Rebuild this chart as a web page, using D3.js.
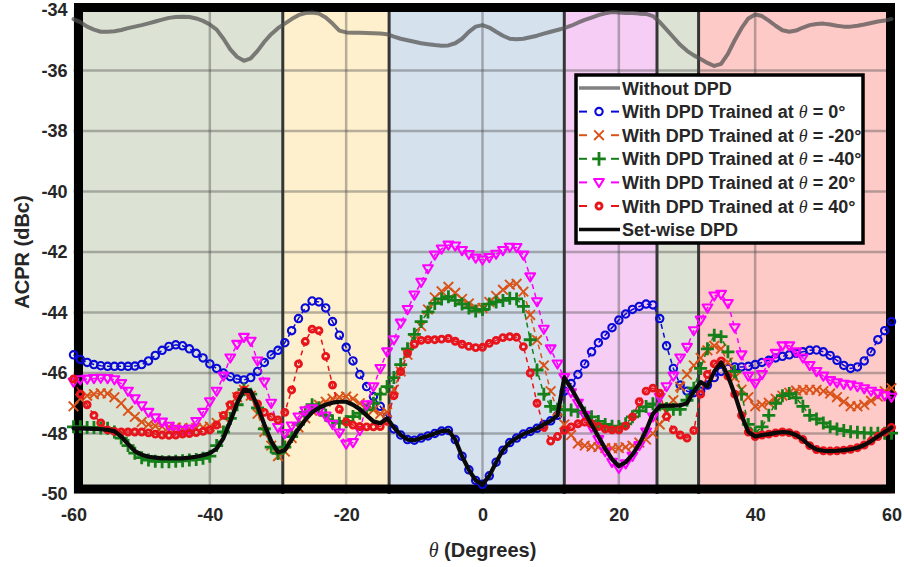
<!DOCTYPE html>
<html><head><meta charset="utf-8">
<script src="https://cdn.jsdelivr.net/npm/d3@7"></script>
<style>
html,body{margin:0;padding:0;background:#fff;}
svg{display:block;}
text{font-family:"Liberation Sans",Arial,Helvetica,sans-serif;font-weight:bold;fill:#262626;}
</style></head>
<body><svg id="chart" width="904" height="567"></svg>
<script>
// ---------- data ----------
const angles = d3.range(-60, 61, 1); // theta (degrees), 1-degree sampling
const xTicks = [-60, -40, -20, 0, 20, 40, 60];
const yTicks = [-50, -48, -46, -44, -42, -40, -38, -36, -34];
const regionEdges = [-60, -29.3, -13.7, 12, 25.6, 31.7, 60];
const regionColors = ["#dde3d4", "#fef0cd", "#d5e1ed", "#f6cdf5", "#dde3d4", "#fdcac7"];

const withoutDPD = [-34.3,-34.4,-34.55,-34.65,-34.72,-34.72,-34.7,-34.66,-34.6,-34.55,
-34.5,-34.44,-34.38,-34.32,-34.26,-34.23,-34.22,-34.23,-34.28,-34.36,
-34.48,-34.65,-34.95,-35.3,-35.55,-35.68,-35.6,-35.35,-35.05,-34.8,
-34.6,-34.45,-34.3,-34.17,-34.1,-34.08,-34.12,-34.25,-34.45,-34.68,
-34.74,-34.75,-34.75,-34.76,-34.77,-34.78,-34.8,-34.88,-34.95,-35.0,
-35.05,-35.1,-35.13,-35.16,-35.18,-35.17,-35.1,-34.95,-34.72,-34.55,
-34.5,
-34.58,-34.72,-34.85,-34.95,-34.97,-34.95,-34.9,-34.85,-34.78,-34.72,
-34.66,-34.6,-34.52,-34.42,-34.33,-34.25,-34.17,-34.11,-34.07,-34.08,
-34.1,-34.1,-34.12,-34.13,-34.2,-34.4,-34.65,-34.9,-35.15,-35.35,
-35.5,-35.62,-35.75,-35.85,-35.78,-35.45,-35.0,-34.6,-34.28,-34.15,
-34.2,-34.35,-34.52,-34.67,-34.72,-34.68,-34.58,-34.5,-34.46,-34.45,
-34.48,-34.52,-34.55,-34.55,-34.52,-34.48,-34.43,-34.38,-34.35,-34.3];

const trained0 = [-45.4,-45.55,-45.65,-45.72,-45.76,-45.78,-45.78,-45.78,-45.78,-45.77,
-45.72,-45.6,-45.42,-45.25,-45.12,-45.07,-45.1,-45.2,-45.35,-45.5,
-45.7,-45.85,-46.0,-46.12,-46.2,-46.23,-46.15,-45.95,-45.65,-45.4,
-45.25,-45.0,-44.6,-44.2,-43.85,-43.62,-43.65,-43.85,-44.3,-44.75,
-45.15,-45.6,-46.05,-46.45,-46.78,-47.1,-47.45,-47.85,-48.05,-48.2,
-48.22,-48.15,-48.08,-48.0,-47.92,-47.9,-48.2,-48.75,-49.2,-49.55,
-49.68,
-49.4,-48.95,-48.55,-48.3,-48.15,-48.02,-47.93,-47.83,-47.7,-47.58,
-47.4,-46.6,-46.35,-46.05,-45.7,-45.3,-45.0,-44.75,-44.5,-44.25,
-44.05,-43.9,-43.8,-43.72,-43.75,-44.2,-45.1,-45.85,-46.4,-46.6,
-46.65,-46.6,-46.4,-46.15,-45.95,-45.85,-45.8,-45.8,-45.78,-45.72,
-45.65,-45.58,-45.5,-45.45,-45.4,-45.35,-45.3,-45.25,-45.24,-45.3,
-45.42,-45.58,-45.75,-45.85,-45.8,-45.6,-45.3,-44.9,-44.6,-44.3];

const trainedM20 = [-47.1,-46.85,-46.75,-46.7,-46.67,-46.68,-46.8,-47.0,-47.25,-47.45,
-47.62,-47.7,-47.75,-47.77,-47.78,-47.8,-47.82,-47.83,-47.82,-47.8,
-47.77,-47.65,-47.45,-47.15,-46.8,-46.55,-46.75,-47.35,-47.95,-48.4,
-48.75,-48.6,-48.15,-47.8,-47.5,-47.25,-47.05,-46.95,-46.85,-46.8,
-46.78,-46.85,-47.0,-47.1,-47.22,-47.35,-47.3,-46.55,-45.95,-45.4,
-44.9,-44.45,-43.9,-43.5,-43.3,-43.15,-43.35,-43.55,-43.7,-43.85,
-43.85,
-43.65,-43.45,-43.25,-43.08,-43.05,-43.31,-44.08,-44.91,-45.75,-46.6,
-47.25,-47.7,-48.05,-48.33,-48.4,-48.43,-48.45,-48.48,-48.49,-48.48,
-48.45,-48.4,-48.3,-48.2,-48.0,-47.7,-47.3,-46.9,-46.45,-46.05,
-45.75,-45.5,-45.25,-45.1,-45.2,-45.65,-46.15,-46.55,-46.8,-47.1,
-47.05,-46.98,-46.85,-46.75,-46.65,-46.58,-46.56,-46.55,-46.56,-46.6,
-46.68,-46.8,-46.95,-47.1,-47.1,-47.05,-46.92,-46.78,-46.6,-46.5];

const trainedM40 = [-47.78,-47.78,-47.8,-47.8,-47.82,-47.83,-47.95,-48.15,-48.4,-48.65,
-48.8,-48.88,-48.92,-48.93,-48.93,-48.92,-48.9,-48.88,-48.86,-48.82,
-48.75,-48.4,-47.95,-47.5,-47.05,-46.55,-46.7,-47.15,-47.85,-48.45,
-48.66,-48.45,-48.1,-47.7,-47.3,-47.05,-47.15,-47.4,-47.58,-47.66,
-47.6,-47.44,-47.33,-47.22,-47.0,-46.7,-46.45,-46.15,-45.72,-45.2,
-44.72,-44.3,-43.98,-43.7,-43.55,-43.48,-43.6,-43.72,-43.85,-43.95,
-43.9,
-43.72,-43.65,-43.6,-43.53,-43.55,-43.8,-44.9,-45.9,-46.7,-47.1,
-47.2,-47.22,-47.22,-47.27,-47.32,-47.45,-47.6,-47.7,-47.76,-47.77,
-47.68,-47.45,-47.25,-47.11,-47.02,-47.05,-47.17,-47.2,-47.2,-46.9,
-46.5,-45.85,-45.2,-44.75,-44.8,-45.3,-45.95,-46.7,-47.7,-47.98,
-47.78,-47.4,-47.0,-46.75,-46.68,-46.82,-47.1,-47.4,-47.52,-47.65,
-47.78,-47.85,-47.9,-47.94,-47.96,-47.98,-47.99,-47.99,-47.99,-47.99];

const trained20 = [-46.3,-46.22,-46.2,-46.18,-46.17,-46.18,-46.22,-46.35,-46.6,-46.85,
-47.08,-47.3,-47.48,-47.62,-47.76,-47.86,-47.9,-47.85,-47.6,-47.3,
-46.95,-46.6,-46.1,-45.5,-45.05,-44.82,-44.95,-45.6,-46.3,-47.0,
-47.8,-48.0,-47.75,-47.45,-47.25,-47.18,-47.25,-47.42,-47.7,-47.98,
-48.35,-48.3,-47.9,-47.05,-46.45,-45.85,-45.3,-44.9,-44.35,-43.9,
-43.42,-43.0,-42.55,-42.1,-41.9,-41.77,-41.8,-41.95,-42.08,-42.2,
-42.26,
-42.18,-42.07,-41.95,-41.84,-41.85,-42.1,-42.82,-43.64,-44.55,-45.2,
-45.7,-46.15,-46.65,-47.0,-47.4,-47.8,-48.2,-48.6,-48.95,-49.15,
-49.0,-48.75,-48.4,-47.95,-47.45,-46.8,-46.45,-46.1,-45.5,-45.15,
-44.6,-44.25,-43.85,-43.45,-43.4,-43.7,-44.5,-45.4,-46.1,-46.34,
-46.05,-45.65,-45.35,-45.1,-45.1,-45.3,-45.5,-45.75,-45.95,-46.1,
-46.25,-46.32,-46.37,-46.4,-46.45,-46.52,-46.6,-46.68,-46.75,-46.8];

const trained40 = [-46.2,-46.7,-47.05,-47.4,-47.65,-47.88,-47.93,-47.95,-47.95,-47.95,
-47.95,-47.98,-48.02,-48.05,-48.06,-48.05,-48.02,-48.0,-47.97,-47.93,
-47.88,-47.72,-47.4,-47.05,-46.75,-46.57,-46.75,-47.02,-47.3,-47.45,
-47.55,-47.3,-46.56,-45.7,-44.96,-44.55,-44.6,-45.45,-46.4,-47.2,
-47.62,-47.72,-47.77,-47.78,-47.78,-47.77,-47.6,-46.75,-45.95,-45.35,
-45.05,-44.92,-44.9,-44.9,-44.88,-44.86,-44.95,-45.05,-45.12,-45.16,
-45.15,
-45.02,-44.92,-44.83,-44.8,-44.82,-45.13,-46.0,-47.0,-47.8,-48.25,
-48.1,-47.9,-47.78,-47.68,-47.62,-47.68,-47.77,-47.85,-47.88,-47.88,
-47.75,-47.45,-46.95,-46.6,-46.5,-46.67,-47.44,-47.88,-48.05,-48.15,
-47.9,-46.7,-46.05,-45.7,-45.6,-46.1,-46.7,-47.4,-47.95,-48.1,
-48.05,-48.02,-47.98,-47.95,-47.97,-48.05,-48.2,-48.4,-48.53,-48.57,
-48.58,-48.57,-48.55,-48.52,-48.47,-48.38,-48.25,-48.1,-47.95,-47.8];

const setWise = [-47.83,-47.83,-47.84,-47.85,-47.86,-47.88,-47.92,-48.1,-48.35,-48.58,
-48.7,-48.77,-48.8,-48.82,-48.82,-48.82,-48.82,-48.8,-48.77,-48.72,
-48.65,-48.5,-48.15,-47.6,-47.0,-46.55,-46.6,-47.1,-47.7,-48.25,
-48.62,-48.55,-48.2,-47.85,-47.55,-47.3,-47.15,-47.05,-46.98,-46.95,
-46.95,-47.05,-47.2,-47.4,-47.6,-47.66,-47.5,-47.8,-48.05,-48.2,
-48.22,-48.15,-48.08,-48.0,-47.92,-47.9,-48.2,-48.75,-49.2,-49.55,
-49.68,
-49.4,-48.95,-48.55,-48.3,-48.15,-48.02,-47.93,-47.83,-47.7,-47.58,
-47.4,-46.15,-46.5,-46.9,-47.3,-47.7,-48.1,-48.5,-48.85,-49.08,
-48.95,-48.7,-48.35,-47.9,-47.35,-47.1,-47.08,-47.08,-47.07,-47.0,
-46.6,-46.3,-46.45,-45.95,-45.65,-46.1,-46.7,-47.4,-47.95,-48.1,
-48.05,-48.02,-47.98,-47.95,-47.97,-48.05,-48.2,-48.4,-48.53,-48.57,
-48.58,-48.57,-48.55,-48.52,-48.47,-48.38,-48.25,-48.1,-47.95,-47.8];

const seriesNames = ["Without DPD",
  "With DPD Trained at \u03B8 = 0\u00B0",
  "With DPD Trained at \u03B8 = -20\u00B0",
  "With DPD Trained at \u03B8 = -40\u00B0",
  "With DPD Trained at \u03B8 = 20\u00B0",
  "With DPD Trained at \u03B8 = 40\u00B0",
  "Set-wise DPD"];

// ---------- chart ----------
const svg = d3.select("#chart");
const x = d3.scaleLinear().domain([-60, 60]).range([73.5, 891.5]);
const y = d3.scaleLinear().domain([-50, -34]).range([494, 10]);

const series = [
  {name: seriesNames[0], values: withoutDPD, color: "#505050", opacity: 0.72, width: 4, dash: null, marker: null},
  {name: seriesNames[1], values: trained0, color: "#0a0ad8", width: 1.5, dash: "5,4", marker: "circle"},
  {name: seriesNames[2], values: trainedM20, color: "#d95319", width: 1.5, dash: "5,4", marker: "x"},
  {name: seriesNames[3], values: trainedM40, color: "#15801a", width: 1.5, dash: "5,4", marker: "plus"},
  {name: seriesNames[4], values: trained20, color: "#ff00ff", width: 1.5, dash: "5,4", marker: "tri"},
  {name: seriesNames[5], values: trained40, color: "#e8141c", width: 1.5, dash: "5,4", marker: "dot"},
  {name: seriesNames[6], values: setWise, color: "#0a0a0a", width: 4.2, dash: null, marker: null}
];

// region backgrounds
const regions = regionColors.map((c, i) => ({a: regionEdges[i], b: regionEdges[i + 1], c}));
svg.append("g").selectAll("rect").data(regions).join("rect")
  .attr("x", d => x(d.a)).attr("width", d => x(d.b) - x(d.a))
  .attr("y", y(-34)).attr("height", y(-50) - y(-34))
  .attr("fill", d => d.c);

// grid
const grid = svg.append("g").attr("stroke", "#4a4a4a").attr("stroke-opacity", 0.4).attr("stroke-width", 2.5);
grid.selectAll(".gx").data(xTicks.slice(1, -1)).join("line")
  .attr("x1", d => x(d)).attr("x2", d => x(d)).attr("y1", y(-34)).attr("y2", y(-50));
grid.selectAll(".gy").data(yTicks.slice(1, -1)).join("line")
  .attr("y1", d => y(d)).attr("y2", d => y(d)).attr("x1", x(-60)).attr("x2", x(60));

// region boundary lines
svg.append("g").selectAll("line").data(regionEdges.slice(1, -1)).join("line")
  .attr("x1", d => x(d)).attr("x2", d => x(d)).attr("y1", y(-34)).attr("y2", y(-50))
  .attr("stroke", "#363636").attr("stroke-width", 3);

// axes frame
svg.append("rect")
  .attr("x", x(-60) + 5).attr("y", y(-34) - 2.5)
  .attr("width", x(60) - x(-60) - 6).attr("height", y(-50) - y(-34) - 2.5)
  .attr("fill", "none").attr("stroke", "#000").attr("stroke-width", 9);

// axes labels
const fmt = d => String(d);
const xAxis = svg.append("g").attr("transform", `translate(0,${y(-50)})`)
  .call(d3.axisBottom(x).tickValues(xTicks).tickSize(0).tickPadding(14).tickFormat(fmt));
const yAxis = svg.append("g").attr("transform", `translate(${x(-60)},0)`)
  .call(d3.axisLeft(y).tickValues(yTicks).tickSize(0).tickPadding(6).tickFormat(fmt));
[xAxis, yAxis].forEach(g => {
  g.select(".domain").remove();
  g.selectAll("text").style("font-family", '"Liberation Sans", Arial, sans-serif')
    .style("font-weight", "bold").style("font-size", "18px").attr("fill", "#262626");
});

// markers
function drawMarker(g, type, color, size) {
  const s = size || 1;
  if (type === "circle") {
    g.append("circle").attr("r", 3.7 * s).attr("fill", "none").attr("stroke", color).attr("stroke-width", 2.1);
  } else if (type === "dot") {
    g.append("circle").attr("r", 3.0 * s).attr("fill", "none").attr("stroke", color).attr("stroke-width", 2.9);
  } else if (type === "x") {
    const a = 4.8 * s;
    g.append("path").attr("d", `M${-a},${-a}L${a},${a}M${-a},${a}L${a},${-a}`)
      .attr("stroke", color).attr("stroke-width", 1.9).attr("fill", "none");
  } else if (type === "plus") {
    const a = 6.5 * s;
    g.append("path").attr("d", `M${-a},0L${a},0M0,${-a}L0,${a}`)
      .attr("stroke", color).attr("stroke-width", 2.8).attr("fill", "none");
  } else if (type === "tri") {
    const a = 4.9 * s;
    g.append("path").attr("d", `M${-a},${-a * 0.7}L${a},${-a * 0.7}L0,${a * 0.95}Z`)
      .attr("stroke", color).attr("stroke-width", 2.1).attr("fill", "none").attr("stroke-linejoin", "round");
  }
}

const line = d3.line().x((d, i) => x(angles[i])).y(d => y(d)).curve(d3.curveLinear);
const dataLayer = svg.append("g");
series.forEach(s => {
  const g = dataLayer.append("g");
  g.append("path").attr("d", line(s.values)).attr("fill", "none")
    .attr("stroke", s.color).attr("stroke-width", s.width)
    .attr("stroke-opacity", s.opacity || 1)
    .attr("stroke-linejoin", "round").attr("stroke-linecap", s.dash ? "butt" : "round")
    .attr("stroke-dasharray", s.dash);
  if (s.marker) {
    s.values.forEach((v, i) => {
      const m = g.append("g").attr("transform", `translate(${x(angles[i])},${y(v)})`);
      drawMarker(m, s.marker, s.color);
    });
  }
});

// titles
svg.append("text").attr("transform", `translate(29,${(y(-34) + y(-50)) / 2}) rotate(-90)`)
  .attr("text-anchor", "middle").style("font-size", "20px").text("ACPR (dBc)");
const xt = svg.append("text").attr("x", x(0)).attr("y", 557).attr("text-anchor", "middle").style("font-size", "20px");
xt.append("tspan").style("font-family", '"Liberation Serif", "DejaVu Serif", serif').style("font-style", "italic").style("font-weight", "normal").text("\u03B8");
xt.append("tspan").text(" (Degrees)");

// legend
const lx0 = 576, ly0 = 75, lw = 287, lh = 168, rowH = 23.6, rowY0 = 88;
svg.append("clipPath").attr("id", "legclip").append("rect")
  .attr("x", lx0).attr("y", ly0).attr("width", lw).attr("height", lh);
const lg = svg.append("g").attr("clip-path", "url(#legclip)");
lg.append("rect").attr("x", lx0).attr("y", ly0).attr("width", lw).attr("height", lh).attr("fill", "#fff");
series.forEach((s, i) => {
  const yy = rowY0 + i * rowH;
  const g = lg.append("g");
  if (s.dash) {
    g.append("line").attr("x1", 579).attr("x2", 587).attr("y1", yy).attr("y2", yy).attr("stroke", s.color).attr("stroke-width", 2);
    g.append("line").attr("x1", 611).attr("x2", 619).attr("y1", yy).attr("y2", yy).attr("stroke", s.color).attr("stroke-width", 2);
    const m = g.append("g").attr("transform", `translate(599,${yy})`);
    drawMarker(m, s.marker, s.color, s.marker === "plus" ? 1.05 : 1);
  } else {
    g.append("line").attr("x1", 579).attr("x2", 620).attr("y1", yy).attr("y2", yy)
      .attr("stroke", s.color).attr("stroke-opacity", s.opacity || 1).attr("stroke-width", 3.5);
  }
  const t = g.append("text").attr("x", 622).attr("y", yy + 6.5).style("font-size", "18px").attr("fill", "#111");
  const parts = s.name.split("\u03B8");
  t.append("tspan").text(parts[0]);
  if (parts.length > 1) {
    t.append("tspan").style("font-family", '"Liberation Serif", "DejaVu Serif", serif').style("font-style", "italic").style("font-weight", "normal").text("\u03B8");
    t.append("tspan").text(parts[1]);
  }
});
svg.append("rect").attr("x", lx0).attr("y", ly0).attr("width", lw).attr("height", lh)
  .attr("fill", "none").attr("stroke", "#000").attr("stroke-width", 3.5);
</script>
</body></html>
